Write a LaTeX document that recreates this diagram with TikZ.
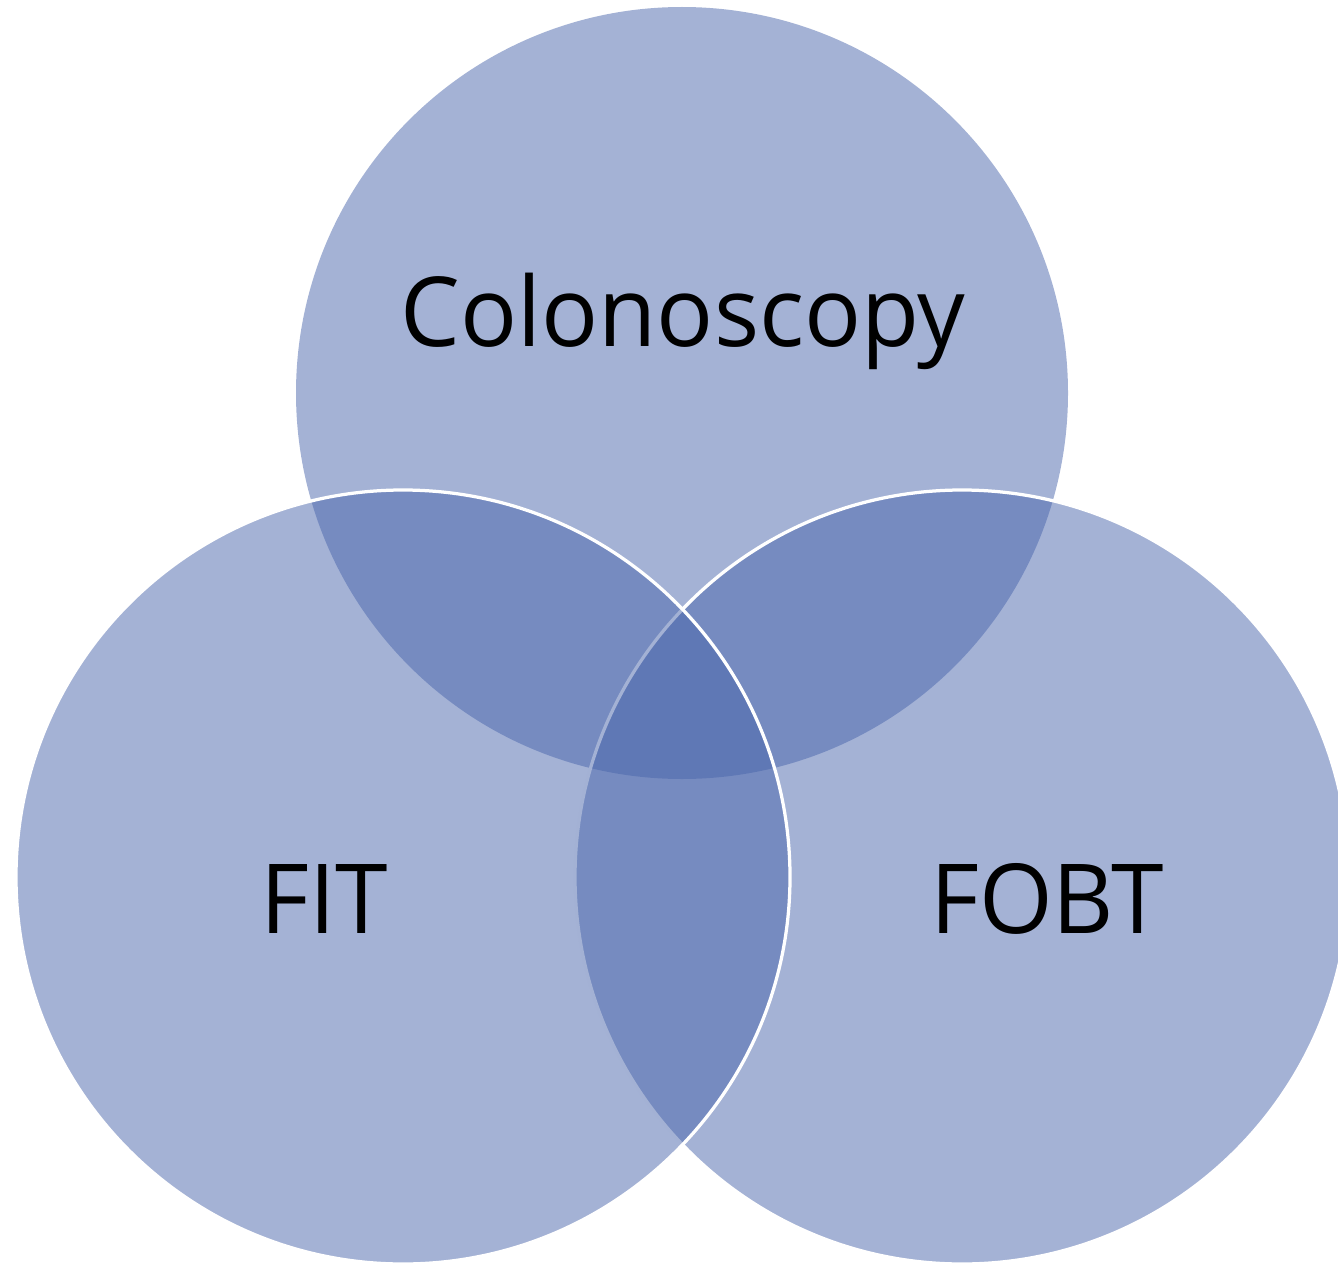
\documentclass[tikz,border=0pt]{standalone}
\usepackage{fontspec}
\setmainfont[FakeStretch=0.98]{Open Sans}
\definecolor{vennblue}{RGB}{73,101,171}
\begin{document}
\begin{tikzpicture}[x=0.02cm,y=-0.02cm,
  setcircle/.style={fill=vennblue,fill opacity=0.5,draw=white,line width=0.065cm},
  setlabel/.style={anchor=base,font=\fontsize{55}{66}\selectfont,text=black}]
  \useasboundingbox (0,0) rectangle (1338,1264);
  \begin{scope}
    \clip (0,0) rectangle (1338,1264);
    % top set, then right, then left on top
    \path[setcircle,draw=none] (682,393) circle[radius=386];
    \path[setcircle] (962,877) circle[radius=387];
    \path[setcircle] (403,877) circle[radius=387];
  \end{scope}
  \node[setlabel] (colon) at (683,346) {Colonoscopy};
  \node[setlabel] (fit) at (324,933) {FIT};
  \node[setlabel] (fobt) at (1047,933) {FOBT};
\end{tikzpicture}
\end{document}
